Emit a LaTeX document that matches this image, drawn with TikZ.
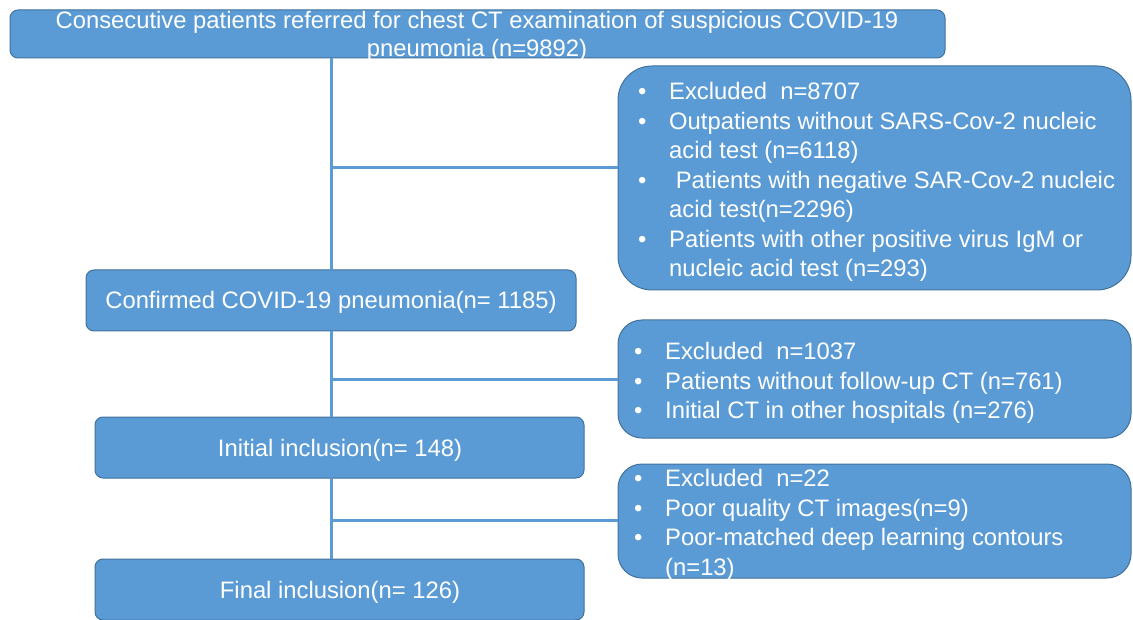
\documentclass[tikz,border=0pt]{standalone}
\usepackage{fontspec}
\setmainfont{Liberation Sans}
\usepackage{tikz}
\definecolor{boxfill}{HTML}{5B9BD5}
\definecolor{boxline}{HTML}{41719C}
\tikzset{
  stepbox/.style={draw=boxline, fill=boxfill, line width=1pt, rounded corners=8pt,
    anchor=north west, inner sep=0pt, outer sep=0pt},
  exbox/.style={stepbox, rounded corners=34pt},
  txt/.style={text=white, font=\fontsize{23.8}{28}\selectfont, inner sep=0pt},
  bultxt/.style={txt, align=left, anchor=north west, font=\fontsize{23.8}{29.5}\selectfont},
  link/.style={draw=boxfill, line width=3pt}
}
\newcommand{\bl}{\makebox[31pt][l]{\textbullet}}
\newcommand{\cont}{\hspace*{31pt}}
\begin{document}
\begin{tikzpicture}[x=1pt, y=-1pt]
  \useasboundingbox (0,0) rectangle (1133,620);
  % boxes of the main flow
  \node[stepbox, minimum width=935pt, minimum height=48pt] (top) at (10,10) {};
  \node[stepbox, minimum width=490pt, minimum height=61pt] (conf) at (86,270) {};
  \node[stepbox, minimum width=489pt, minimum height=61pt] (init) at (95,417) {};
  \node[stepbox, minimum width=489pt, minimum height=61pt] (final) at (95,559) {};
  % exclusion boxes
  \node[exbox, minimum width=513pt, minimum height=224pt] (ex1) at (618,66) {};
  \node[exbox, rounded corners=24pt, minimum width=513pt, minimum height=118pt] (ex2) at (618,320) {};
  \node[exbox, rounded corners=24pt, minimum width=513pt, minimum height=114pt] (ex3) at (618,464) {};
  % texts
  \node[txt, align=center] (toptxt) at (477,36.5) {Consecutive patients referred for chest CT examination of suspicious COVID-19\\pneumonia (n=9892)};
  \node[txt] (conftxt) at (331,302.5) {Confirmed COVID-19 pneumonia(n= 1185)};
  \node[txt] (inittxt) at (340,450.5) {Initial inclusion(n= 148)};
  \node[txt] (finaltxt) at (340,592.5) {Final inclusion(n= 126)};
  \node[bultxt] (ex1txt) at (638,82.5) {\bl Excluded\ \ n=8707\\
    \bl Outpatients without SARS-Cov-2 nucleic\\
    \cont acid test (n=6118)\\
    \bl\ Patients with negative SAR-Cov-2 nucleic\\
    \cont acid test(n=2296)\\
    \bl Patients with other positive virus IgM or\\
    \cont nucleic acid test (n=293)};
  \node[bultxt] (ex2txt) at (634,342.5) {\bl Excluded\ \ n=1037\\
    \bl Patients without follow-up CT (n=761)\\
    \bl Initial CT in other hospitals (n=276)};
  \node[bultxt] (ex3txt) at (634,469.5) {\bl Excluded\ \ n=22\\
    \bl Poor quality CT images(n=9)\\
    \bl Poor-matched deep learning contours\\
    \cont (n=13)};
  % connectors
  \coordinate (j1) at (331,168);
  \coordinate (j2) at (331,380);
  \coordinate (j3) at (331,520);
  \draw[link] (conf.north -| j1) -- (top.south -| j1);
  \draw[link] (j1) -- (j1 -| ex1.west);
  \draw[link] (init.north -| j2) -- (conf.south -| j2);
  \draw[link] (j2) -- (j2 -| ex2.west);
  \draw[link] (final.north -| j3) -- (init.south -| j3);
  \draw[link] (j3) -- (j3 -| ex3.west);
\end{tikzpicture}
\end{document}
